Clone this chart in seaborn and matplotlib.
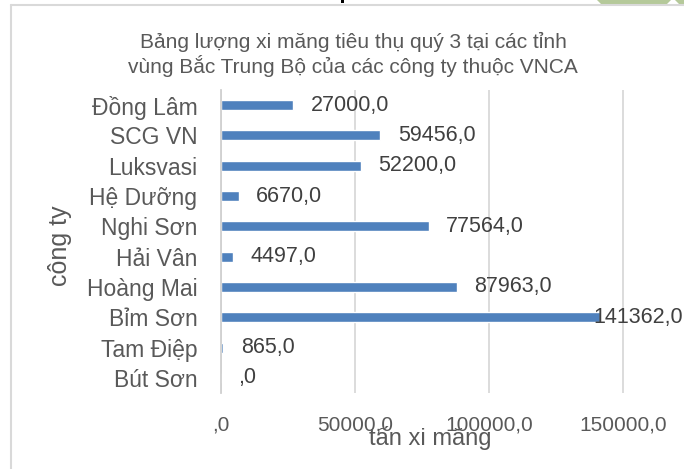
import matplotlib
matplotlib.use("Agg")
import matplotlib.pyplot as plt
import seaborn as sns
import pandas as pd
from matplotlib.lines import Line2D
from matplotlib.patches import Polygon, Rectangle

# ---- data ----
companies = ["Đồng Lâm", "SCG VN", "Luksvasi", "Hệ Dưỡng", "Nghi Sơn",
             "Hải Vân", "Hoàng Mai", "Bỉm Sơn", "Tam Điệp", "Bút Sơn"]
tons = [27000, 59456, 52200, 6670, 77564, 4497, 87963, 141362, 865, 0]
x_ticks = [0, 50000, 100000, 150000]
title_text = "Bảng lượng xi măng tiêu thụ quý 3 tại các tỉnh\nvùng Bắc Trung Bộ của các công ty thuộc VNCA"
x_label = "tấn xi măng"
y_label = "công ty"

def fmt(v):
    s = f"{v:.1f}".replace(".", ",")
    return ",0" if v == 0 else s

df = pd.DataFrame({"company": companies, "tons": tons})

sns.set_theme(style="white")
plt.rcParams["font.family"] = ["Liberation Sans", "DejaVu Sans"]

W, H = 684, 469
fig = plt.figure(figsize=(W / 100, H / 100), dpi=100)
fig.patch.set_facecolor("white")

ax = fig.add_axes([221 / W, 1 - 393 / H, (650 - 221) / W, (393 - 90) / H])
sns.barplot(data=df, x="tons", y="company", orient="h", color="#4F81BD",
            saturation=1, width=0.33, ax=ax, zorder=3)

ax.set_xlim(0, 160000)
ax.set_xticks(x_ticks)
ax.set_xticklabels([fmt(t) for t in x_ticks])
ax.grid(axis="x", color="#D9D9D9", linewidth=1.3, zorder=0)
ax.grid(axis="y", visible=False)
for side in ["top", "right", "bottom"]:
    ax.spines[side].set_visible(False)
ax.spines["left"].set_color("#D0D0D0")
ax.spines["left"].set_linewidth(1.3)
ax.spines["left"].set_zorder(4)

ax.tick_params(axis="x", length=0, pad=16, labelsize=15, labelcolor="#595959")
ax.tick_params(axis="y", length=0, pad=17, labelsize=16.5, labelcolor="#595959")

ax.set_xlabel(x_label, fontsize=17, color="#595959")
ax.xaxis.set_label_coords((430 - 221) / (650 - 221), (393 - 438) / (393 - 90))
ax.xaxis.label.set_va("center")
ax.set_ylabel(y_label, fontsize=18, color="#595959")
ax.yaxis.set_label_coords((60 - 221) / (650 - 221), (393 - 246) / (393 - 90))
ax.yaxis.label.set_va("center")

# data labels
texts = []
for i, v in enumerate(tons):
    t = ax.annotate(fmt(v), xy=(v, i), xytext=(12.5, 0), textcoords="offset points",
                    ha="left", va="center", fontsize=15.5, color="#404040", zorder=5)
    texts.append(t)

fig.canvas.draw()
renderer = fig.canvas.get_renderer()
for t in texts:
    bb = t.get_window_extent(renderer)
    if bb.x1 > W - 1:
        shift = (bb.x1 - (W - 1)) * 72 / fig.dpi
        x0, y0 = t.get_position()
        t.set_position((12.5 - shift, 0))

# title
fig.text(353 / W, 1 - 54.5 / H, title_text, ha="center", va="center",
         fontsize=15, color="#595959", linespacing=1.2, multialignment="center")

# chart-area border (left and top)
fig.add_artist(Line2D([10.5 / W, 10.5 / W], [0, 1 - 5.5 / H], transform=fig.transFigure,
                      color="#D9D9D9", linewidth=1.5))
fig.add_artist(Line2D([10.5 / W, 1], [1 - 5.5 / H, 1 - 5.5 / H], transform=fig.transFigure,
                      color="#D9D9D9", linewidth=1.5))

# decorative green shapes at top edge
def fp(x, y):
    return (x / W, 1 - y / H)

fig.add_artist(Polygon([fp(597, 0), fp(671, 0), fp(666, 5), fp(602, 5)],
                       closed=True, transform=fig.transFigure,
                       facecolor="#B5C99A", edgecolor="none"))
fig.add_artist(Polygon([fp(675, 0), fp(684, 0), fp(684, 5), fp(680, 5)],
                       closed=True, transform=fig.transFigure,
                       facecolor="#B5C99A", edgecolor="none"))
fig.add_artist(Rectangle(fp(341, 3.5), 3 / W, 3 / H, transform=fig.transFigure,
                         facecolor="black", edgecolor="none"))

fig.savefig("out.png", dpi=100, facecolor="white")
